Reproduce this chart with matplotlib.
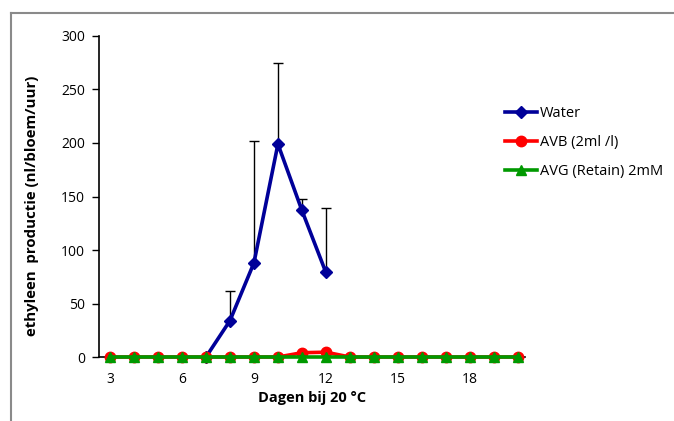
import matplotlib
matplotlib.use("Agg")
import matplotlib.pyplot as plt
from matplotlib.lines import Line2D
import numpy as np

plt.rcParams['font.family'] = ['Open Sans', 'DejaVu Sans']

# Days after transfer to 20 °C
days = list(range(3, 21))

# Water control (measured from day 7 on)
water_days = [7, 8, 9, 10, 11, 12]
water_vals = [0, 34, 88, 199, 137, 79]
water_upper = [0, 62, 202, 275, 148, 139]   # top of the error bar

# AVB (2 ml/l)
avb_vals = [0, 0, 0, 0, 0, 0, 0, 0, 4, 4.5, 0, 0, 0, 0, 0, 0, 0, 0]

# AVG (Retain) 2 mM
avg_vals = [0] * 18

fig = plt.figure(figsize=(6.74, 4.21), dpi=100)
ax = fig.add_axes([0.1469, 0.152, 0.632, 0.7625])

# partial outer frame
fig.add_artist(Line2D([11/674, 1.0], [1 - 13/421, 1 - 13/421], color='#8a8a8a', lw=1.5))
fig.add_artist(Line2D([11/674, 11/674], [0.0, 1 - 13/421], color='#8a8a8a', lw=1.5))

yerr_up = np.array(water_upper) - np.array(water_vals)
ax.errorbar(water_days, water_vals, yerr=[np.zeros(len(water_vals)), yerr_up],
            fmt='none', ecolor='black', elinewidth=1.0, capsize=3.5, capthick=1.0, zorder=2)
ax.plot(water_days, water_vals, color='#000099', lw=2.6, marker='D', ms=6.5,
        label='Water', zorder=3, clip_on=False)
ax.plot(days, avb_vals, color='#ff0000', lw=2.6, marker='o', ms=7.5,
        label='AVB (2ml /l)', zorder=4, clip_on=False)
ax.plot(days, avg_vals, color='#009900', lw=2.6, marker='^', ms=7.5,
        label='AVG (Retain) 2mM', zorder=5, clip_on=False)

ax.set_xlim(2.54, 20.3)
ax.set_ylim(0, 300)
ax.set_xticks([3, 6, 9, 12, 15, 18])
ax.set_yticks([0, 50, 100, 150, 200, 250, 300])
ax.tick_params(axis='x', length=0, labelsize=10, pad=11)
ax.tick_params(axis='y', length=5, width=1, labelsize=10, direction='out', pad=5)

for s in ['top', 'right']:
    ax.spines[s].set_visible(False)
for s in ['left', 'bottom']:
    ax.spines[s].set_linewidth(1.2)
    ax.spines[s].set_color('black')

ax.set_xlabel('Dagen bij 20 °C', fontsize=10.5, fontweight='bold', labelpad=3)
ax.set_ylabel('ethyleen  productie (nl/bloem/uur)', fontsize=10.8, fontweight='bold')
ax.yaxis.set_label_coords(-0.14, 0.47)

ax.legend(loc='upper left', bbox_to_anchor=(0.94, 0.80), frameon=False, fontsize=10.5,
          handlelength=2.2, handletextpad=0.15, labelspacing=0.95, borderaxespad=0)

fig.savefig('out.png', dpi=100)
